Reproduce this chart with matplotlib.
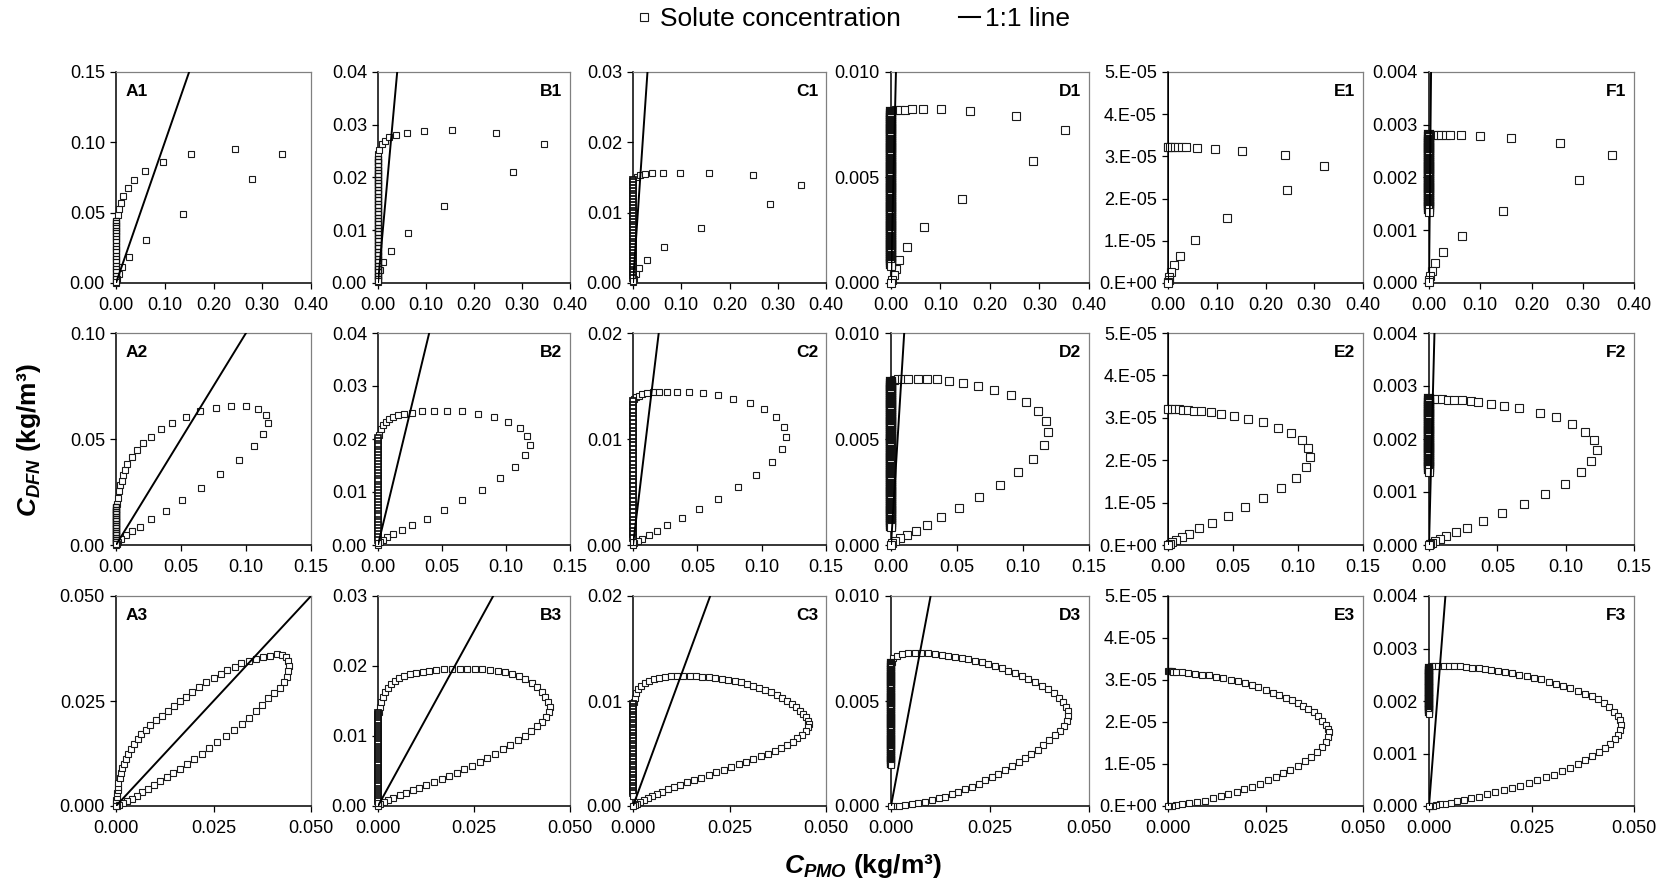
import numpy as np
import matplotlib
matplotlib.use('Agg')
from matplotlib import pyplot as plt
from matplotlib.lines import Line2D
from matplotlib.ticker import FuncFormatter

plt.rcParams['font.family'] = 'Liberation Sans'
plt.rcParams['mathtext.fontset'] = 'custom'
plt.rcParams['mathtext.it'] = 'Liberation Sans:italic:bold'
plt.rcParams['mathtext.rm'] = 'Liberation Sans:bold'

# ---- row 1 (x up to 0.40) ----
a1_x = [0.0047, 0.0070, 0.0102, 0.0149, 0.0243, 0.0376, 0.0596, 0.0957, 0.1530, 0.2450, 0.3410, 0.2780, 0.1370, 0.0620, 0.0275, 0.0125, 0.0055, 0.0016, 0.0]
a1_y = [0.0483, 0.0523, 0.0570, 0.0620, 0.0674, 0.0733, 0.0795, 0.0859, 0.0918, 0.0953, 0.0918, 0.0736, 0.0492, 0.0305, 0.0187, 0.0114, 0.0064, 0.0028, 0.0]
a1_rise = [0.0442, 0.0425, 0.0407, 0.0389, 0.0371, 0.0354, 0.0336, 0.0312, 0.0289, 0.0265, 0.0241, 0.0218, 0.0194, 0.0170, 0.0147, 0.0123, 0.0099, 0.0075, 0.0052, 0.0028, 0.0010]

b1_x = [0.0008, 0.0024, 0.0080, 0.0143, 0.0239, 0.0382, 0.0604, 0.0962, 0.155, 0.2465, 0.345, 0.281, 0.138, 0.062, 0.027, 0.011, 0.0048, 0.0008, 0.0]
b1_y = [0.0245, 0.0253, 0.0263, 0.0270, 0.0276, 0.0281, 0.0285, 0.0288, 0.0290, 0.0285, 0.0264, 0.0210, 0.0146, 0.0095, 0.0061, 0.0039, 0.0025, 0.0014, 0.0001]
b1_rise = [0.0236, 0.0229, 0.0222, 0.0215, 0.0209, 0.0202, 0.0196, 0.0189, 0.0183, 0.0176, 0.0170, 0.0163, 0.0157, 0.0150, 0.0144, 0.0137, 0.0131, 0.0124, 0.0118, 0.0111, 0.0105, 0.0098, 0.0092, 0.0085, 0.0079, 0.0072, 0.0066, 0.0059, 0.0053, 0.0046, 0.0040, 0.0033, 0.0027, 0.0020, 0.0014, 0.0008, 0.0003]

c1_x = [0.0074, 0.0148, 0.0250, 0.0384, 0.0613, 0.098, 0.157, 0.249, 0.349, 0.284, 0.140, 0.0635, 0.028, 0.0133, 0.0052, 0.0015, 0.0]
c1_y = [0.0151, 0.0153, 0.01545, 0.0156, 0.0156, 0.0157, 0.0156, 0.0153, 0.0140, 0.0112, 0.00775, 0.0051, 0.00326, 0.00208, 0.00123, 0.0005, 0.0001]
c1_rise = [0.0147, 0.0143, 0.0139, 0.0135, 0.0131, 0.0127, 0.0123, 0.0119, 0.0115, 0.0111, 0.0107, 0.0103, 0.0099, 0.0095, 0.0091, 0.0087, 0.0083, 0.0079, 0.0075, 0.0071, 0.0067, 0.0063, 0.0059, 0.0055, 0.0051, 0.0047, 0.0043, 0.0039, 0.0035, 0.0031, 0.0027, 0.0023, 0.0019, 0.0015, 0.0011, 0.0007, 0.0003]

d1_x = [0.0095, 0.018, 0.028, 0.042, 0.064, 0.101, 0.160, 0.252, 0.352, 0.287, 0.143, 0.066, 0.032, 0.0167, 0.0095, 0.006, 0.003, 0.0]
d1_y = [0.00818, 0.0082, 0.0082, 0.00823, 0.00824, 0.00823, 0.00815, 0.0079, 0.00724, 0.00577, 0.0040, 0.00265, 0.0017, 0.00108, 0.00067, 0.00036, 0.00015, 0.0]
d1_rise = [0.0081, 0.0080, 0.0079, 0.0078, 0.0077, 0.0076, 0.0075, 0.0074, 0.0073, 0.0072, 0.0071, 0.0070, 0.0069, 0.0068, 0.0067, 0.0066, 0.0065, 0.0064, 0.0063, 0.0062, 0.0061, 0.0060, 0.0059, 0.0058, 0.0057, 0.0056, 0.0055, 0.0054, 0.0053, 0.0052, 0.0051, 0.0050, 0.0049, 0.0048, 0.0047, 0.0046, 0.0045, 0.0044, 0.0043, 0.0042, 0.0041, 0.0040, 0.0039, 0.0038, 0.0037, 0.0036, 0.0035, 0.0034, 0.0033, 0.0032, 0.0031, 0.0030, 0.0029, 0.0028, 0.0027, 0.0026, 0.0025, 0.0024, 0.0023, 0.0022, 0.0021, 0.0020, 0.0019, 0.0018, 0.0017, 0.0016, 0.0015, 0.0014, 0.0013, 0.0012, 0.0011, 0.0010, 0.0009, 0.0008]

e1_x = [0.0, 0.0, 0.0036, 0.0092, 0.015, 0.0206, 0.0277, 0.0377, 0.0604, 0.0959, 0.152, 0.239, 0.321, 0.245, 0.122, 0.0561, 0.0256, 0.0114, 0.0064, 0.0028, 0.0014, 0.0007, 0.0]
e1_y = [3.22e-5, 3.22e-5, 3.22e-5, 3.22e-5, 3.22e-5, 3.22e-5, 3.22e-5, 3.215e-5, 3.21e-5, 3.18e-5, 3.13e-5, 3.03e-5, 2.77e-5, 2.21e-5, 1.54e-5, 1.02e-5, 0.65e-5, 0.42e-5, 0.26e-5, 0.14e-5, 0.08e-5, 0.02e-5, 0.0]
e1_rise = []

f1_x = [0.0101, 0.0169, 0.0236, 0.0338, 0.0419, 0.0628, 0.100, 0.160, 0.256, 0.358, 0.292, 0.144, 0.0649, 0.0277, 0.0122, 0.0054, 0.002, 0.0007, 0.0]
f1_y = [0.00281, 0.00281, 0.00281, 0.00281, 0.00281, 0.00281, 0.00279, 0.00275, 0.00266, 0.00243, 0.00195, 0.00136, 0.0009, 0.00058, 0.00037, 0.00023, 0.00013, 0.00006, 0.00002]
f1_rise = [0.0028, 0.00276, 0.00272, 0.00268, 0.00264, 0.0026, 0.00256, 0.00252, 0.00248, 0.00244, 0.0024, 0.00236, 0.00232, 0.00228, 0.00224, 0.0022, 0.00216, 0.00212, 0.00208, 0.00204, 0.002, 0.00196, 0.00192, 0.00188, 0.00184, 0.0018, 0.00176, 0.00172, 0.00168, 0.00164, 0.0016, 0.00156, 0.00152, 0.00148, 0.00144, 0.0014, 0.00134]

# ---- row 2 (x up to 0.15) ----
a2_x = [0.0009, 0.0015, 0.0021, 0.0032, 0.0044, 0.0053, 0.0067, 0.0088, 0.0123, 0.0158, 0.0208, 0.027, 0.0346, 0.0434, 0.0536, 0.0647, 0.077, 0.0888, 0.0999, 0.1093, 0.1151, 0.1166, 0.1134, 0.1058, 0.0943, 0.0803, 0.0656, 0.0507, 0.0381, 0.027, 0.0185, 0.0123, 0.0079, 0.0041, 0.0018, 0.0006, 0.0]
a2_y = [0.0192, 0.0224, 0.0256, 0.0283, 0.0304, 0.0330, 0.0355, 0.0383, 0.0415, 0.0447, 0.0479, 0.051, 0.0545, 0.0577, 0.0606, 0.063, 0.0645, 0.0655, 0.0655, 0.0641, 0.0615, 0.0574, 0.0525, 0.0466, 0.0399, 0.0334, 0.0269, 0.0213, 0.0162, 0.0121, 0.0087, 0.0065, 0.0045, 0.0029, 0.0014, 0.0005, 0.0]
a2_rise = [0.0178, 0.0167, 0.0156, 0.0145, 0.0134, 0.0123, 0.0112, 0.0101, 0.0090, 0.0079, 0.0068, 0.0057, 0.0046, 0.0035, 0.0024, 0.0013, 0.0004]

b2_x = [0.0006, 0.0021, 0.0039, 0.006, 0.0086, 0.0116, 0.0155, 0.0205, 0.0268, 0.0345, 0.0435, 0.0536, 0.0655, 0.078, 0.0905, 0.1015, 0.1107, 0.1164, 0.1185, 0.1149, 0.1071, 0.0955, 0.0813, 0.0658, 0.0512, 0.0381, 0.0268, 0.0185, 0.0119, 0.0071, 0.0036, 0.0015, 0.0]
b2_y = [0.0208, 0.0218, 0.0226, 0.0232, 0.0237, 0.0242, 0.0245, 0.0248, 0.025, 0.0252, 0.0253, 0.0253, 0.0252, 0.0248, 0.0242, 0.0233, 0.0221, 0.0206, 0.0189, 0.0169, 0.0148, 0.0126, 0.0104, 0.0084, 0.0066, 0.005, 0.0038, 0.0028, 0.0021, 0.0015, 0.001, 0.0006, 0.0]
b2_rise = [0.0202, 0.0197, 0.0191, 0.0186, 0.0180, 0.0175, 0.0169, 0.0164, 0.0158, 0.0153, 0.0147, 0.0142, 0.0136, 0.0131, 0.0125, 0.0120, 0.0114, 0.0109, 0.0103, 0.0098, 0.0092, 0.0087, 0.0081, 0.0076, 0.0070, 0.0065, 0.0059, 0.0054, 0.0048, 0.0043, 0.0037, 0.0032, 0.0026, 0.0021, 0.0015, 0.0010, 0.0004]

c2_x = [0.0008, 0.0022, 0.0044, 0.0071, 0.0109, 0.0159, 0.0205, 0.0268, 0.0345, 0.0438, 0.0542, 0.0657, 0.078, 0.0906, 0.1021, 0.1109, 0.1172, 0.1188, 0.1155, 0.1078, 0.0958, 0.0816, 0.0662, 0.0515, 0.038, 0.0268, 0.0183, 0.0123, 0.0071, 0.0036, 0.0011, 0.0]
c2_y = [0.0138, 0.01397, 0.0141, 0.01425, 0.01435, 0.01441, 0.01444, 0.01448, 0.01448, 0.01444, 0.01435, 0.01413, 0.01381, 0.0134, 0.0128, 0.01206, 0.01117, 0.01016, 0.00905, 0.00784, 0.00663, 0.00546, 0.00435, 0.00337, 0.00251, 0.00187, 0.00133, 0.00092, 0.0006, 0.00035, 0.00016, 0.0]
c2_rise = [0.0136, 0.01325, 0.0129, 0.01255, 0.0122, 0.01185, 0.0115, 0.01115, 0.0108, 0.01045, 0.0101, 0.00975, 0.0094, 0.00905, 0.0087, 0.00835, 0.008, 0.00765, 0.0073, 0.00695, 0.0066, 0.00625, 0.0059, 0.00555, 0.0052, 0.00485, 0.0045, 0.00415, 0.0038, 0.00345, 0.0031, 0.00275, 0.0024, 0.00205, 0.0017, 0.00135, 0.001, 0.00065, 0.0003]

d2_x = [0.0025, 0.0052, 0.0087, 0.0126, 0.0202, 0.027, 0.0347, 0.044, 0.0544, 0.0661, 0.0784, 0.0907, 0.1022, 0.1112, 0.1172, 0.1189, 0.1156, 0.1079, 0.0962, 0.0822, 0.0667, 0.0516, 0.038, 0.0273, 0.0186, 0.012, 0.0066, 0.0033, 0.0011, 0.0]
d2_y = [0.00778, 0.00783, 0.00784, 0.00784, 0.00784, 0.00783, 0.00781, 0.00775, 0.00765, 0.00751, 0.00732, 0.00706, 0.00675, 0.00633, 0.00586, 0.00532, 0.00471, 0.00408, 0.00344, 0.00283, 0.00227, 0.00175, 0.0013, 0.00095, 0.00068, 0.00048, 0.00032, 0.00021, 0.00011, 0.0]
d2_rise = [0.0077, 0.0076, 0.0075, 0.0074, 0.0073, 0.0072, 0.0071, 0.0070, 0.0069, 0.0068, 0.0067, 0.0066, 0.0065, 0.0064, 0.0063, 0.0062, 0.0061, 0.0060, 0.0059, 0.0058, 0.0057, 0.0056, 0.0055, 0.0054, 0.0053, 0.0052, 0.0051, 0.0050, 0.0049, 0.0048, 0.0047, 0.0046, 0.0045, 0.0044, 0.0043, 0.0042, 0.0041, 0.0040, 0.0039, 0.0038, 0.0037, 0.0036, 0.0035, 0.0034, 0.0033, 0.0032, 0.0031, 0.0030, 0.0029, 0.0028, 0.0027, 0.0026, 0.0025, 0.0024, 0.0023, 0.0022, 0.0021, 0.0020, 0.0019, 0.0018, 0.0017, 0.0016, 0.0015, 0.0014, 0.0013, 0.0012, 0.0011, 0.0010, 0.0009, 0.00083]

e2_x = [0.0, 0.0, 0.0027, 0.0053, 0.0082, 0.0114, 0.0156, 0.0201, 0.0254, 0.0329, 0.0411, 0.0511, 0.0617, 0.0731, 0.0845, 0.0943, 0.1028, 0.1076, 0.1089, 0.106, 0.0983, 0.0869, 0.0734, 0.0596, 0.0458, 0.0337, 0.0241, 0.0164, 0.0106, 0.0064, 0.0034, 0.0013, 0.0003, 0.0]
e2_y = [3.21e-5, 3.21e-5, 3.21e-5, 3.2e-5, 3.2e-5, 3.19e-5, 3.19e-5, 3.17e-5, 3.15e-5, 3.13e-5, 3.10e-5, 3.04e-5, 2.98e-5, 2.89e-5, 2.77e-5, 2.64e-5, 2.48e-5, 2.28e-5, 2.07e-5, 1.84e-5, 1.59e-5, 1.34e-5, 1.10e-5, 0.89e-5, 0.69e-5, 0.52e-5, 0.39e-5, 0.27e-5, 0.19e-5, 0.12e-5, 0.065e-5, 0.024e-5, 0.008e-5, 0.0]
e2_rise = []

f2_x = [0.0026, 0.0056, 0.0092, 0.0136, 0.0185, 0.0244, 0.0308, 0.0359, 0.0451, 0.0549, 0.0656, 0.081, 0.0931, 0.1049, 0.1141, 0.1205, 0.1226, 0.1187, 0.111, 0.0997, 0.0849, 0.0692, 0.0531, 0.0397, 0.0279, 0.0195, 0.0128, 0.0079, 0.0046, 0.0021, 0.0008, 0.0]
f2_y = [0.00275, 0.00275, 0.00275, 0.00274, 0.00274, 0.00273, 0.00272, 0.0027, 0.00266, 0.00263, 0.00258, 0.00249, 0.00241, 0.00229, 0.00214, 0.00198, 0.0018, 0.00159, 0.00138, 0.00116, 0.00096, 0.00078, 0.0006, 0.00045, 0.00033, 0.00024, 0.00017, 0.00012, 0.00008, 0.00004, 0.00002, 0.0]
f2_rise = [0.00275, 0.00271, 0.00267, 0.00263, 0.00259, 0.00255, 0.00251, 0.00247, 0.00243, 0.00239, 0.00235, 0.00231, 0.00227, 0.00223, 0.00219, 0.00215, 0.00211, 0.00207, 0.00203, 0.00199, 0.00195, 0.00191, 0.00187, 0.00183, 0.00179, 0.00175, 0.00171, 0.00167, 0.00163, 0.00159, 0.00155, 0.00151, 0.00147, 0.00143, 0.00137]

# ---- row 3 (x up to 0.050) ----
a3_x = [0.0, 0.0001, 0.0002, 0.0003, 0.0004, 0.0005, 0.0006, 0.0009, 0.0012, 0.0016, 0.002, 0.0025, 0.0032, 0.0039, 0.0047, 0.0056, 0.0065, 0.0076, 0.0088, 0.0102, 0.0117, 0.0133, 0.0149, 0.0164, 0.018, 0.0195, 0.0212, 0.0232, 0.025, 0.0268, 0.0285, 0.0304, 0.0321, 0.034, 0.0358, 0.0376, 0.0395, 0.0412,
        0.0425, 0.0436, 0.0442, 0.0444, 0.0442, 0.0438, 0.043, 0.042, 0.0406, 0.0391, 0.0375, 0.036, 0.0342, 0.0322, 0.0303, 0.0282, 0.026, 0.0239, 0.022, 0.02, 0.0182, 0.0164, 0.0147, 0.013, 0.0114, 0.0098, 0.0081, 0.0066, 0.0053, 0.004, 0.0029, 0.0018, 0.0008, 0.0002, 0.0]
a3_y = [0.00064, 0.00143, 0.00222, 0.00302, 0.00381, 0.0046, 0.00556, 0.00659, 0.00778, 0.00897, 0.01, 0.01127, 0.01239, 0.0135, 0.01477, 0.01596, 0.01707, 0.0181, 0.0193, 0.02049, 0.02152, 0.02271, 0.02382, 0.02493, 0.02604, 0.02723, 0.02843, 0.02946, 0.03057, 0.03152, 0.03232, 0.03319, 0.03398, 0.03462, 0.0351, 0.03549, 0.03573, 0.03629,
        0.03605, 0.03541, 0.03454, 0.03343, 0.03208, 0.03081, 0.02946, 0.02819, 0.027, 0.02565, 0.02414, 0.02271, 0.02096, 0.01945, 0.01802, 0.01667, 0.01517, 0.01374, 0.01247, 0.0112, 0.01008, 0.00881, 0.00794, 0.00691, 0.00596, 0.00508, 0.00413, 0.00326, 0.00246, 0.00175, 0.00119, 0.00064, 0.00024, 0.00008, 0.0]
a3_rise = []

b3_x = [0.0002, 0.0005, 0.0008, 0.0012, 0.0018, 0.0025, 0.0033, 0.0043, 0.0055, 0.0069, 0.0083, 0.0099, 0.0116, 0.0133, 0.0152, 0.0172, 0.0192, 0.0213, 0.0233, 0.0253, 0.0272, 0.0292, 0.0312, 0.0331, 0.035, 0.0368, 0.0384, 0.04, 0.0414, 0.0426, 0.0436, 0.0444, 0.0448, 0.0445, 0.0437, 0.0426, 0.0414, 0.0399, 0.0382, 0.0364, 0.0345, 0.0325, 0.0305, 0.0285, 0.0265, 0.0245, 0.0224, 0.0205, 0.0185, 0.0166, 0.0146, 0.0126, 0.0108, 0.009, 0.0073, 0.0056, 0.004, 0.0026, 0.0015, 0.0006, 0.0001, 0.0]
b3_y = [0.01345, 0.01416, 0.01487, 0.01559, 0.0163, 0.01691, 0.01748, 0.01791, 0.01825, 0.01858, 0.01882, 0.019, 0.0192, 0.01933, 0.01943, 0.01953, 0.01958, 0.01963, 0.01963, 0.01963, 0.01958, 0.01948, 0.01933, 0.01915, 0.01887, 0.01853, 0.0181, 0.01758, 0.01696, 0.0163, 0.01559, 0.01487, 0.01416, 0.01345, 0.01274, 0.01202, 0.0114, 0.01074, 0.01003, 0.00936, 0.0087, 0.00808, 0.00746, 0.00689, 0.00632, 0.00575, 0.00523, 0.00475, 0.00428, 0.00385, 0.00342, 0.00299, 0.00261, 0.00223, 0.00185, 0.00152, 0.00119, 0.00086, 0.00057, 0.00029, 0.0001, 0.0]
b3_rise = [0.0133, 0.0130, 0.0127, 0.0124, 0.0121, 0.0118, 0.0115, 0.0112, 0.0109, 0.0106, 0.0103, 0.0100, 0.0097, 0.0094, 0.0091, 0.0088, 0.0085, 0.0082, 0.0079, 0.0076, 0.0073, 0.0070, 0.0067, 0.0064, 0.0061, 0.0058, 0.0055, 0.0052, 0.0049, 0.0046, 0.0043, 0.0040, 0.0037, 0.0034, 0.0031, 0.0028, 0.0025, 0.0022, 0.0019, 0.0016, 0.0013, 0.0010, 0.0007, 0.0004]

c3_x = [0.0002, 0.0005, 0.0008, 0.0014, 0.0021, 0.003, 0.0041, 0.0054, 0.0068, 0.0083, 0.0098, 0.0114, 0.013, 0.0147, 0.0164, 0.018, 0.0197, 0.0213, 0.023, 0.0246, 0.0263, 0.0279, 0.0296, 0.0312, 0.0327, 0.0343, 0.0357, 0.0372, 0.0386, 0.0399, 0.0411, 0.0422, 0.0432, 0.0441, 0.0448, 0.0454, 0.0457,
        0.0453, 0.0447, 0.0437, 0.0426, 0.0414, 0.0399, 0.0383, 0.0367, 0.0349, 0.0331, 0.0312, 0.0293, 0.0274, 0.0255, 0.0235, 0.0216, 0.0197, 0.0177, 0.0159, 0.0141, 0.0123, 0.0107, 0.0091, 0.0076, 0.0062, 0.005, 0.0038, 0.0028, 0.0018, 0.001, 0.0004, 0.0]
c3_y = [0.00986, 0.01033, 0.01074, 0.01112, 0.01143, 0.01172, 0.01194, 0.0121, 0.01222, 0.01229, 0.01235, 0.01238, 0.01238, 0.01238, 0.01235, 0.01232, 0.01229, 0.01222, 0.01213, 0.01203, 0.01191, 0.01178, 0.01162, 0.01147, 0.01128, 0.01106, 0.01084, 0.01058, 0.0103, 0.01002, 0.0097, 0.00939, 0.00907, 0.00876, 0.00844, 0.00813, 0.00781,
        0.0075, 0.00712, 0.00677, 0.00643, 0.00611, 0.0058, 0.00551, 0.00523, 0.00498, 0.00473, 0.00447, 0.00422, 0.00397, 0.00372, 0.00347, 0.00321, 0.00296, 0.00271, 0.00246, 0.00224, 0.00202, 0.0018, 0.00158, 0.00135, 0.00113, 0.00095, 0.00076, 0.00057, 0.00038, 0.00022, 0.00009, 0.0]
c3_rise = [0.0097, 0.00945, 0.0092, 0.00895, 0.0087, 0.00845, 0.0082, 0.00795, 0.0077, 0.00745, 0.0072, 0.00695, 0.0067, 0.00645, 0.0062, 0.00595, 0.0057, 0.00545, 0.0052, 0.00495, 0.0047, 0.00445, 0.0042, 0.00395, 0.0037, 0.00345, 0.0032, 0.00295, 0.0027, 0.00245, 0.0022, 0.00195, 0.0017, 0.00145, 0.0012, 0.00094]

d3_x = [0.0002, 0.0006, 0.0014, 0.0027, 0.0044, 0.0061, 0.0077, 0.0094, 0.0111, 0.0128, 0.0145, 0.0162, 0.0179, 0.0195, 0.0212, 0.0229, 0.0246, 0.0263, 0.028, 0.0296, 0.0313, 0.033, 0.0347, 0.0364, 0.0381, 0.0397, 0.0412, 0.0424, 0.0435, 0.0443, 0.0447, 0.0448,
        0.0445, 0.0437, 0.0427, 0.0414, 0.04, 0.0385, 0.037, 0.0354, 0.0338, 0.0322, 0.0305, 0.0288, 0.0271, 0.0254, 0.0237, 0.0221, 0.0204, 0.0187, 0.017, 0.0153, 0.0136, 0.012, 0.0103, 0.0086, 0.0069, 0.0052, 0.0035, 0.0019, 0.0006, 0.0]
d3_y = [0.00688, 0.00703, 0.00714, 0.00722, 0.00727, 0.00728, 0.00728, 0.00727, 0.00723, 0.0072, 0.00716, 0.00711, 0.00706, 0.007, 0.00692, 0.00684, 0.00677, 0.00667, 0.00656, 0.00645, 0.00633, 0.0062, 0.00606, 0.00591, 0.00573, 0.00555, 0.00536, 0.00516, 0.00495, 0.00473, 0.00452, 0.0043,
        0.00406, 0.00383, 0.00359, 0.00336, 0.00313, 0.00289, 0.00267, 0.00247, 0.00227, 0.00208, 0.00189, 0.0017, 0.00153, 0.00137, 0.00122, 0.00106, 0.00092, 0.0008, 0.00067, 0.00056, 0.00045, 0.00036, 0.00027, 0.00019, 0.00012, 0.00008, 0.00005, 0.00002, 0.0, 0.0]
d3_rise = [0.0068, 0.0067, 0.0066, 0.0065, 0.0064, 0.0063, 0.0062, 0.0061, 0.0060, 0.0059, 0.0058, 0.0057, 0.0056, 0.0055, 0.0054, 0.0053, 0.0052, 0.0051, 0.0050, 0.0049, 0.0048, 0.0047, 0.0046, 0.0045, 0.0044, 0.0043, 0.0042, 0.0041, 0.0040, 0.0039, 0.0038, 0.0037, 0.0036, 0.0035, 0.0034, 0.0033, 0.0032, 0.0031, 0.0030, 0.0029, 0.0028, 0.0027, 0.0026, 0.0025, 0.0024, 0.0023, 0.0022, 0.0021, 0.0020, 0.00195]

e3_x = [0.0, 0.0003, 0.0006, 0.001, 0.0013, 0.002, 0.0036, 0.0051, 0.0069, 0.0086, 0.0105, 0.0124, 0.0142, 0.0162, 0.0179, 0.0197, 0.0215, 0.0232, 0.025, 0.0268, 0.0285, 0.0303, 0.0318, 0.0334, 0.0347, 0.036, 0.0374, 0.0384, 0.0396, 0.0404, 0.041, 0.0414,
        0.0411, 0.0405, 0.0396, 0.0382, 0.0367, 0.0351, 0.0333, 0.0314, 0.0296, 0.0276, 0.0257, 0.0237, 0.0216, 0.0196, 0.0176, 0.0155, 0.0135, 0.0115, 0.0094, 0.0074, 0.0054, 0.0036, 0.002, 0.0009, 0.0003, 0.0]
e3_y = [3.22e-5, 3.22e-5, 3.22e-5, 3.21e-5, 3.2e-5, 3.195e-5, 3.18e-5, 3.16e-5, 3.15e-5, 3.13e-5, 3.11e-5, 3.08e-5, 3.05e-5, 3.01e-5, 2.97e-5, 2.93e-5, 2.87e-5, 2.83e-5, 2.76e-5, 2.70e-5, 2.65e-5, 2.58e-5, 2.53e-5, 2.46e-5, 2.39e-5, 2.32e-5, 2.23e-5, 2.14e-5, 2.03e-5, 1.94e-5, 1.84e-5, 1.76e-5,
        1.65e-5, 1.53e-5, 1.41e-5, 1.29e-5, 1.16e-5, 1.06e-5, 0.96e-5, 0.86e-5, 0.78e-5, 0.69e-5, 0.61e-5, 0.53e-5, 0.46e-5, 0.40e-5, 0.34e-5, 0.28e-5, 0.23e-5, 0.18e-5, 0.13e-5, 0.094e-5, 0.063e-5, 0.039e-5, 0.016e-5, 0.008e-5, 0.003e-5, 0.0]
e3_rise = []

f3_x = [0.0004, 0.0013, 0.0023, 0.0036, 0.0049, 0.0062, 0.0076, 0.0091, 0.0105, 0.0121, 0.0136, 0.0152, 0.0168, 0.0186, 0.0203, 0.022, 0.0238, 0.0256, 0.0274, 0.0292, 0.031, 0.0327, 0.0345, 0.0363, 0.038, 0.0397, 0.0412, 0.0427, 0.0439, 0.0451, 0.046, 0.0466, 0.0469,
        0.0467, 0.0462, 0.0453, 0.0442, 0.0429, 0.0415, 0.0398, 0.0381, 0.0363, 0.0345, 0.0325, 0.0305, 0.0285, 0.0264, 0.0244, 0.0223, 0.0203, 0.0182, 0.0162, 0.0142, 0.0122, 0.0103, 0.0086, 0.0069, 0.0054, 0.004, 0.0028, 0.0018, 0.0009, 0.0003, 0.0]
f3_y = [0.00266, 0.00267, 0.00267, 0.00267, 0.00267, 0.002665, 0.00266, 0.00265, 0.00263, 0.00262, 0.00261, 0.00259, 0.00257, 0.00255, 0.00253, 0.0025, 0.00247, 0.00244, 0.00241, 0.00237, 0.00233, 0.00229, 0.00224, 0.00219, 0.00214, 0.00209, 0.00203, 0.00196, 0.00188, 0.0018, 0.00171, 0.00163, 0.00154,
        0.00145, 0.00136, 0.00127, 0.00118, 0.0011, 0.00102, 0.00095, 0.00087, 0.0008, 0.00073, 0.00067, 0.0006, 0.00055, 0.00049, 0.00044, 0.00039, 0.00035, 0.0003, 0.00026, 0.00022, 0.00018, 0.00015, 0.00012, 0.00009, 0.00006, 0.00004, 0.00003, 0.00001, 0.000006, 0.0, 0.0]
f3_rise = [0.00263, 0.0026, 0.00257, 0.00254, 0.00251, 0.00248, 0.00245, 0.00242, 0.00239, 0.00236, 0.00233, 0.0023, 0.00227, 0.00224, 0.00221, 0.00218, 0.00215, 0.00212, 0.00209, 0.00206, 0.00203, 0.002, 0.00197, 0.00194, 0.00191, 0.00188, 0.00185, 0.00182, 0.00179, 0.00176]

names = [['A1', 'B1', 'C1', 'D1', 'E1', 'F1'],
         ['A2', 'B2', 'C2', 'D2', 'E2', 'F2'],
         ['A3', 'B3', 'C3', 'D3', 'E3', 'F3']]
xs = [[a1_x, b1_x, c1_x, d1_x, e1_x, f1_x],
      [a2_x, b2_x, c2_x, d2_x, e2_x, f2_x],
      [a3_x, b3_x, c3_x, d3_x, e3_x, f3_x]]
ys = [[a1_y, b1_y, c1_y, d1_y, e1_y, f1_y],
      [a2_y, b2_y, c2_y, d2_y, e2_y, f2_y],
      [a3_y, b3_y, c3_y, d3_y, e3_y, f3_y]]
rises = [[a1_rise, b1_rise, c1_rise, d1_rise, e1_rise, f1_rise],
         [a2_rise, b2_rise, c2_rise, d2_rise, e2_rise, f2_rise],
         [a3_rise, b3_rise, c3_rise, d3_rise, e3_rise, f3_rise]]

x_max = [0.40, 0.15, 0.050]
x_step = [0.10, 0.05, 0.025]
x_fmt = ['%.2f', '%.2f', '%.3f']
y_max = [[0.15, 0.04, 0.03, 0.010, 5e-5, 0.004],
         [0.10, 0.04, 0.02, 0.010, 5e-5, 0.004],
         [0.050, 0.03, 0.02, 0.010, 5e-5, 0.004]]
y_step = [[0.05, 0.01, 0.01, 0.005, 1e-5, 0.001],
          [0.05, 0.01, 0.01, 0.005, 1e-5, 0.001],
          [0.025, 0.01, 0.01, 0.005, 1e-5, 0.001]]
y_fmt = [['%.2f', '%.2f', '%.2f', '%.3f', 'E', '%.3f'],
         ['%.2f', '%.2f', '%.2f', '%.3f', 'E', '%.3f'],
         ['%.3f', '%.2f', '%.2f', '%.3f', 'E', '%.3f']]

# layout in pixels
W, H = 1664, 885
col_left = [116, 378, 633, 891, 1168, 1429]
col_width = [195, 192, 193, 198, 195, 205]
row_top = [72, 333, 596]
row_bottom = [283, 545, 806]
msize = [[5.0, 5.0, 4.8, 5.6, 5.6, 5.6],
         [5.0, 5.0, 4.8, 5.6, 5.6, 5.6],
         [4.2, 4.2, 3.8, 4.8, 4.9, 4.9]]
# how heavy the stacked rising limb looks (dense columns read as solid black)
rise_mew = [[0.9, 1.0, 1.3, 1.6, 1.0, 1.6],
            [1.0, 1.2, 1.3, 1.6, 1.0, 1.6],
            [1.0, 1.3, 1.3, 1.6, 1.0, 1.6]]


def e_label(v, pos):
    if abs(v) < 1e-12:
        return '0.E+00'
    return '%d.E-05' % round(v / 1e-5)


fig = plt.figure(figsize=(W / 100, H / 100), dpi=100)

for i in range(3):
    for j in range(6):
        ax = fig.add_axes([col_left[j] / W, 1 - row_bottom[i] / H,
                           col_width[j] / W, (row_bottom[i] - row_top[i]) / H])
        ms = msize[i][j]
        ax.plot(xs[i][j], ys[i][j], 's', ms=ms, mfc='white', mec='#1a1a1a',
                mew=0.8, clip_on=False, zorder=3)
        r = sorted(rises[i][j], reverse=True)
        if r:
            ax.plot(np.zeros(len(r) - 1), r[:-1], 's', ms=ms, mfc='white', mec='#111111',
                    mew=rise_mew[i][j], clip_on=False, zorder=3)
            # first point of the rising limb sits on top, open
            ax.plot([0.0], r[-1:], 's', ms=ms, mfc='white', mec='#1a1a1a',
                    mew=0.8, clip_on=False, zorder=3.1)
        lim = min(x_max[i], y_max[i][j])
        ax.plot([0, lim], [0, lim], color='black', lw=1.4, zorder=4)

        ax.set_xlim(0, x_max[i])
        ax.set_ylim(0, y_max[i][j])
        ax.set_xticks(np.arange(0, x_max[i] + x_step[i] / 2, x_step[i]))
        ax.set_yticks(np.arange(0, y_max[i][j] + y_step[i][j] / 2, y_step[i][j]))
        ax.xaxis.set_major_formatter(FuncFormatter(lambda v, p, f=x_fmt[i]: f % v))
        if y_fmt[i][j] == 'E':
            ax.yaxis.set_major_formatter(FuncFormatter(e_label))
        else:
            ax.yaxis.set_major_formatter(FuncFormatter(lambda v, p, f=y_fmt[i][j]: f % abs(v)))

        ax.tick_params(axis='both', which='major', direction='out', length=4,
                       width=0.9, labelsize=13, colors='black')
        ax.tick_params(axis='x', pad=6)
        ax.tick_params(axis='y', pad=4)
        for s in ['left', 'bottom']:
            ax.spines[s].set_color('black')
            ax.spines[s].set_linewidth(1.1)
        for s in ['top', 'right']:
            ax.spines[s].set_color('#808080')
            ax.spines[s].set_linewidth(0.9)

        if j == 0:
            ax.text(0.05, 0.945, names[i][j], transform=ax.transAxes, ha='left',
                    va='top', fontsize=12.5, fontweight='bold')
        else:
            ax.text(0.96, 0.945, names[i][j], transform=ax.transAxes, ha='right',
                    va='top', fontsize=12.5, fontweight='bold')

handles = [Line2D([], [], ls='none', marker='s', ms=6, mfc='white', mec='#1a1a1a', mew=0.8),
           Line2D([], [], color='black', lw=1.5)]
fig.legend(handles, ['Solute concentration', '1:1 line'], ncol=2, frameon=False,
           fontsize=19, handlelength=0.8, handletextpad=0.2, columnspacing=2.2,
           loc='center', bbox_to_anchor=(852 / W, 1 - 19 / H))

fig.text(29 / W, 1 - 440 / H, r'$\mathit{C}_{\mathit{DFN}}$ (kg/m³)', rotation=90,
         ha='center', va='center', fontsize=19, fontweight='bold')
fig.text(863 / W, 1 - 866 / H, r'$\mathit{C}_{\mathit{PMO}}$ (kg/m³)',
         ha='center', va='center', fontsize=19, fontweight='bold')

fig.savefig('out.png', dpi=100, facecolor='white')
